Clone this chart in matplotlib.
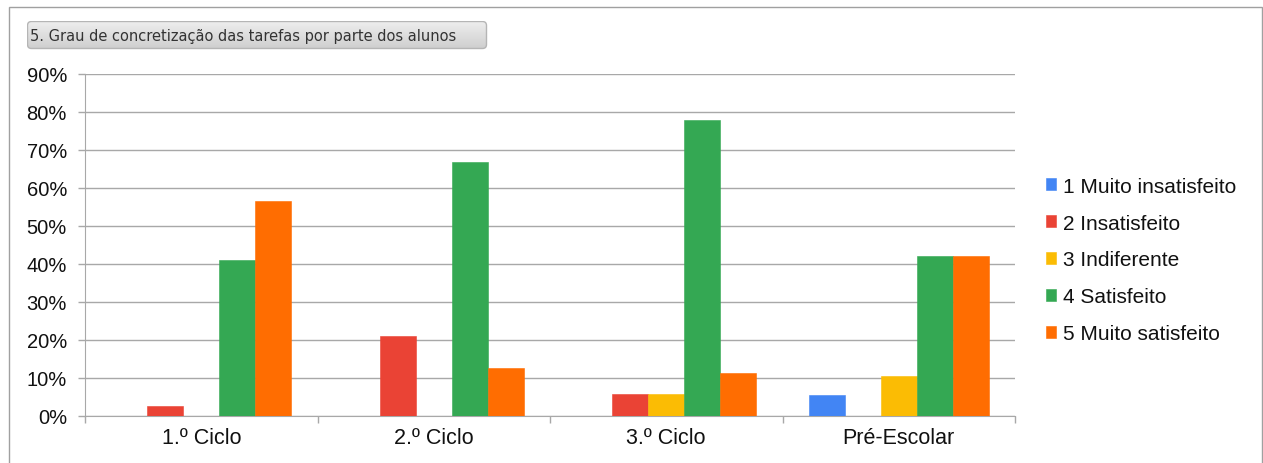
import matplotlib
matplotlib.use("Agg")
import matplotlib.pyplot as plt
import numpy as np
from matplotlib.patches import FancyBboxPatch, Rectangle
from matplotlib.ticker import FixedLocator, PercentFormatter

categories = ["1.º Ciclo", "2.º Ciclo", "3.º Ciclo", "Pré-Escolar"]
series_names = ["1 Muito insatisfeito", "2 Insatisfeito", "3 Indiferente",
                "4 Satisfeito", "5 Muito satisfeito"]
muito_insatisfeito = [0.0, 0.0, 0.0, 5.3]
insatisfeito = [2.6, 20.8, 5.6, 0.0]
indiferente = [0.0, 0.0, 5.6, 10.5]
satisfeito = [41.0, 66.7, 77.8, 42.1]
muito_satisfeito = [56.4, 12.5, 11.1, 42.1]
title = "5. Grau de concretização das tarefas por parte dos alunos"
yticks = [0, 10, 20, 30, 40, 50, 60, 70, 80, 90]

colors = ["#4285F4", "#EA4335", "#FBBC04", "#34A853", "#FF6D01"]
series = [muito_insatisfeito, insatisfeito, indiferente, satisfeito, muito_satisfeito]

W, H = 1263, 464
plt.rcParams['font.family'] = ['Liberation Sans', 'DejaVu Sans']
fig = plt.figure(figsize=(W / 100, H / 100), dpi=100)

# outer frame
fig.patches.append(Rectangle((8.5 / W, -0.1), (1261.5 - 8.5) / W, (H - 7.5) / H + 0.1,
                             transform=fig.transFigure, fill=False,
                             edgecolor="#a0a0a0", linewidth=1.0))

ax = fig.add_axes([85 / W, (H - 416.5) / H, (1015 - 85) / W, (416.5 - 74.5) / H])
x = np.arange(len(categories))
bw = 0.1545
for i, (vals, col, name) in enumerate(zip(series, colors, series_names)):
    ax.bar(x + (i - 2) * bw, vals, bw, color=col, label=name,
           edgecolor=col, linewidth=0.4, zorder=3)

ax.set_xlim(-0.5, 3.5)
ax.set_ylim(0, 90)
ax.set_yticks(yticks)
ax.yaxis.set_major_formatter(PercentFormatter(decimals=0))
ax.grid(axis='y', color="#a8a8a8", linewidth=1.0, zorder=0)
ax.set_xticks(x)
ax.set_xticklabels(categories)
ax.xaxis.set_minor_locator(FixedLocator([-0.5, 0.5, 1.5, 2.5, 3.5]))
ax.tick_params(axis='x', which='major', length=0, pad=8.5, labelsize=15.5, colors="#111111")
ax.tick_params(axis='x', which='minor', length=5, color="#a8a8a8", width=1)
ax.tick_params(axis='y', length=5, color="#a8a8a8", width=1, labelsize=14.5,
               pad=8, labelcolor="#111111")
for s in ["top", "right"]:
    ax.spines[s].set_visible(False)
ax.spines["left"].set_color("#a8a8a8")
ax.spines["bottom"].set_color("#a8a8a8")
ax.set_axisbelow(True)

leg = ax.legend(loc="center left", bbox_to_anchor=(1046 / W, (H - 261) / H),
                bbox_transform=fig.transFigure, frameon=False, fontsize=15,
                handlelength=0.5, handleheight=0.5, handletextpad=0.3,
                labelspacing=0.86, borderaxespad=0, borderpad=0)
for t in leg.get_texts():
    t.set_color("#111111")

# title box with gradient (axes data units == pixels)
bx0, by0, bx1, by1 = 26.5, 21.5, 487.5, 50.5
bw_px, bh_px = bx1 - bx0, by1 - by0
tb_ax = fig.add_axes([bx0 / W, (H - by1) / H, bw_px / W, bh_px / H])
tb_ax.set_axis_off()
tb_ax.set_xlim(0, bw_px)
tb_ax.set_ylim(0, bh_px)
grad = np.linspace(0, 1, 64).reshape(-1, 1)
img = tb_ax.imshow(grad, cmap=matplotlib.colors.LinearSegmentedColormap.from_list(
    "g", ["#eeeeee", "#cdcdcd"]), aspect='auto', extent=(0, bw_px, 0, bh_px), origin='upper')
box = FancyBboxPatch((1, 1), bw_px - 2, bh_px - 2, boxstyle="round,pad=0,rounding_size=4",
                     facecolor="none", edgecolor="#b5b5b5", linewidth=1.0)
tb_ax.add_patch(box)
img.set_clip_path(box)
fig.text(30 / W, (H - 37) / H, title, fontsize=10.5, color="#333333",
         family=['DejaVu Sans'], va='center', ha='left')

fig.savefig("out.png", dpi=100)
